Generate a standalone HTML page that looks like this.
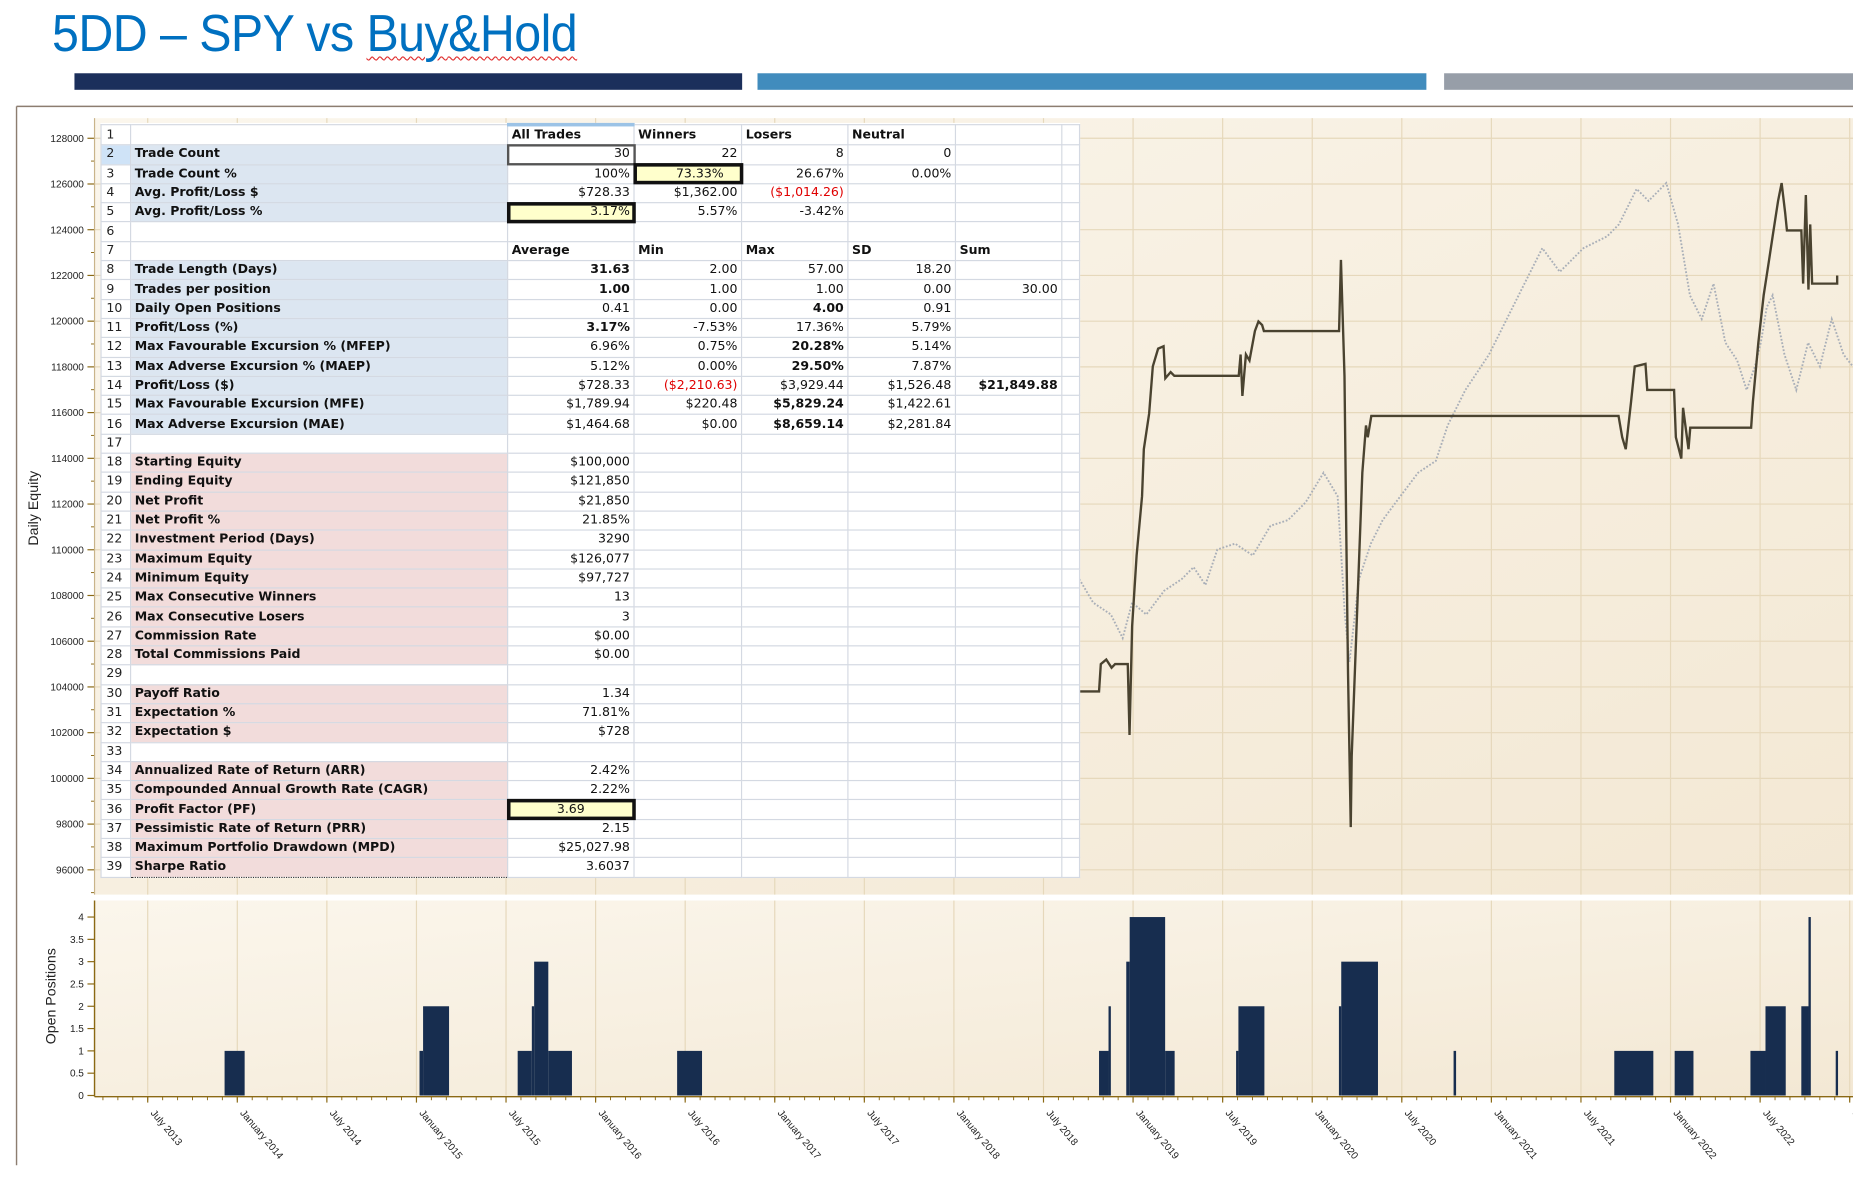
<!DOCTYPE html>
<html><head><meta charset="utf-8">
<style>
html,body{margin:0;padding:0;background:#fff;overflow:hidden;}
#root{position:absolute;left:0;top:0;width:1568px;height:1004px;transform:scale(1.18176);transform-origin:0 0;background:#fff;}
#title{position:absolute;left:44px;top:4px;font-family:"Liberation Sans Narrow","Liberation Sans",sans-serif;font-size:44px;color:#0070c0;white-space:nowrap;letter-spacing:-0.5px;transform:scaleX(0.93);transform-origin:0 0;}
#title .sp{text-decoration:underline wavy #e03030;text-decoration-thickness:1px;text-underline-offset:4px;}
.band{position:absolute;top:62px;height:14px;}
#charts{position:absolute;left:0;top:0;}
#tbl{position:absolute;left:85px;top:104px;border-collapse:collapse;table-layout:fixed;font-family:"DejaVu Sans",sans-serif;font-size:10.6px;color:#111;background:#fff;}
#tbl td{height:15.3px;padding:0 3px;border:1px solid #d4d9e2;white-space:nowrap;overflow:visible;text-align:right;line-height:15px;}
#tbl td.n{text-align:left;color:#222;padding-left:4px;}
#tbl td.l{text-align:left;font-weight:bold;border-bottom:1px dotted #333;border-right:1px dotted #333;}
#tbl tr.b td.l{background:#dce6f1;}
#tbl tr.p td.l{background:#f2dcdb;}
#tbl td.h{text-align:left;font-weight:bold;}
#tbl .bo{font-weight:bold;}
#tbl .r{color:#e00000;}
#tbl td.box{outline:3px solid #111;outline-offset:-2px;background:#ffffcc;}
#tbl td.sel{outline:2px solid #555;outline-offset:-1px;}
</style></head>
<body>
<div id="root">
<div id="title">5DD – SPY vs <span class="sp">Buy&amp;Hold</span></div>
<div class="band" style="left:63px;width:565px;background:#1b2f5b"></div>
<div class="band" style="left:641px;width:566px;background:#418cbd"></div>
<div class="band" style="left:1222px;width:346px;background:#979ea8"></div>

<svg id="charts" width="1568" height="1004" viewBox="0 0 1568 1004">
<defs>
<linearGradient id="bg" x1="0" y1="0" x2="1" y2="1">
<stop offset="0" stop-color="#fbf6ec"/><stop offset="1" stop-color="#f3e8d4"/>
</linearGradient>
</defs>
<line x1="14" y1="90" x2="1568" y2="90" stroke="#8c7d70" stroke-width="1.2"/>
<line x1="14" y1="90" x2="14" y2="986" stroke="#8c7d70" stroke-width="1.2"/>
<rect x="80" y="100" width="1488" height="657" fill="url(#bg)"/>
<rect x="80" y="762" width="1488" height="166" fill="url(#bg)"/>
<g id="grid"></g>
<g id="bh"></g>
<g id="eq"></g>
<g id="bars"></g>
<g id="axes"></g>
<text x="32" y="430" transform="rotate(-90 32 430)" text-anchor="middle" font-family="Liberation Sans,sans-serif" font-size="12" fill="#222">Daily Equity</text>
<text x="47" y="843" transform="rotate(-90 47 843)" text-anchor="middle" font-family="Liberation Sans,sans-serif" font-size="12" fill="#222">Open Positions</text>
</svg>

<table id="tbl">
<colgroup><col style="width:25px"><col style="width:319px"><col style="width:107px"><col style="width:91px"><col style="width:90px"><col style="width:91px"><col style="width:90px"><col style="width:15px"></colgroup>
<tr><td class="n">1</td><td></td><td class="h" style="border-top:3px solid #9cc3e6">All Trades</td><td class="h">Winners</td><td class="h">Losers</td><td class="h">Neutral</td><td></td><td></td></tr>
<tr class="b"><td class="n" style="background:#cfe3f7">2</td><td class="l">Trade Count</td><td class="sel">30</td><td>22</td><td>8</td><td>0</td><td></td><td></td></tr>
<tr class="b"><td class="n">3</td><td class="l">Trade Count %</td><td>100%</td><td class="box" style="text-align:left;padding-left:35px">73.33%</td><td>26.67%</td><td>0.00%</td><td></td><td></td></tr>
<tr class="b"><td class="n">4</td><td class="l">Avg. Profit/Loss $</td><td>$728.33</td><td>$1,362.00</td><td class="r">($1,014.26)</td><td></td><td></td><td></td></tr>
<tr class="b"><td class="n">5</td><td class="l">Avg. Profit/Loss %</td><td class="box">3.17%</td><td>5.57%</td><td>-3.42%</td><td></td><td></td><td></td></tr>
<tr><td class="n">6</td><td></td><td></td><td></td><td></td><td></td><td></td><td></td></tr>
<tr><td class="n">7</td><td></td><td class="h">Average</td><td class="h">Min</td><td class="h">Max</td><td class="h">SD</td><td class="h">Sum</td><td></td></tr>
<tr class="b"><td class="n">8</td><td class="l">Trade Length (Days)</td><td class="bo">31.63</td><td>2.00</td><td>57.00</td><td>18.20</td><td></td><td></td></tr>
<tr class="b"><td class="n">9</td><td class="l">Trades per position</td><td class="bo">1.00</td><td>1.00</td><td>1.00</td><td>0.00</td><td>30.00</td><td></td></tr>
<tr class="b"><td class="n">10</td><td class="l">Daily Open Positions</td><td>0.41</td><td>0.00</td><td class="bo">4.00</td><td>0.91</td><td></td><td></td></tr>
<tr class="b"><td class="n">11</td><td class="l">Profit/Loss (%)</td><td class="bo">3.17%</td><td>-7.53%</td><td>17.36%</td><td>5.79%</td><td></td><td></td></tr>
<tr class="b"><td class="n">12</td><td class="l">Max Favourable Excursion % (MFEP)</td><td>6.96%</td><td>0.75%</td><td class="bo">20.28%</td><td>5.14%</td><td></td><td></td></tr>
<tr class="b"><td class="n">13</td><td class="l">Max Adverse Excursion % (MAEP)</td><td>5.12%</td><td>0.00%</td><td class="bo">29.50%</td><td>7.87%</td><td></td><td></td></tr>
<tr class="b"><td class="n">14</td><td class="l">Profit/Loss ($)</td><td>$728.33</td><td class="r">($2,210.63)</td><td>$3,929.44</td><td>$1,526.48</td><td class="bo">$21,849.88</td><td></td></tr>
<tr class="b"><td class="n">15</td><td class="l">Max Favourable Excursion (MFE)</td><td>$1,789.94</td><td>$220.48</td><td class="bo">$5,829.24</td><td>$1,422.61</td><td></td><td></td></tr>
<tr class="b"><td class="n">16</td><td class="l">Max Adverse Excursion (MAE)</td><td>$1,464.68</td><td>$0.00</td><td class="bo">$8,659.14</td><td>$2,281.84</td><td></td><td></td></tr>
<tr><td class="n">17</td><td></td><td></td><td></td><td></td><td></td><td></td><td></td></tr>
<tr class="p"><td class="n">18</td><td class="l">Starting Equity</td><td>$100,000</td><td></td><td></td><td></td><td></td><td></td></tr>
<tr class="p"><td class="n">19</td><td class="l">Ending Equity</td><td>$121,850</td><td></td><td></td><td></td><td></td><td></td></tr>
<tr class="p"><td class="n">20</td><td class="l">Net Profit</td><td>$21,850</td><td></td><td></td><td></td><td></td><td></td></tr>
<tr class="p"><td class="n">21</td><td class="l">Net Profit %</td><td>21.85%</td><td></td><td></td><td></td><td></td><td></td></tr>
<tr class="p"><td class="n">22</td><td class="l">Investment Period (Days)</td><td>3290</td><td></td><td></td><td></td><td></td><td></td></tr>
<tr class="p"><td class="n">23</td><td class="l">Maximum Equity</td><td>$126,077</td><td></td><td></td><td></td><td></td><td></td></tr>
<tr class="p"><td class="n">24</td><td class="l">Minimum Equity</td><td>$97,727</td><td></td><td></td><td></td><td></td><td></td></tr>
<tr class="p"><td class="n">25</td><td class="l">Max Consecutive Winners</td><td>13</td><td></td><td></td><td></td><td></td><td></td></tr>
<tr class="p"><td class="n">26</td><td class="l">Max Consecutive Losers</td><td>3</td><td></td><td></td><td></td><td></td><td></td></tr>
<tr class="p"><td class="n">27</td><td class="l">Commission Rate</td><td>$0.00</td><td></td><td></td><td></td><td></td><td></td></tr>
<tr class="p"><td class="n">28</td><td class="l">Total Commissions Paid</td><td>$0.00</td><td></td><td></td><td></td><td></td><td></td></tr>
<tr><td class="n">29</td><td></td><td></td><td></td><td></td><td></td><td></td><td></td></tr>
<tr class="p"><td class="n">30</td><td class="l">Payoff Ratio</td><td>1.34</td><td></td><td></td><td></td><td></td><td></td></tr>
<tr class="p"><td class="n">31</td><td class="l">Expectation %</td><td>71.81%</td><td></td><td></td><td></td><td></td><td></td></tr>
<tr class="p"><td class="n">32</td><td class="l">Expectation $</td><td>$728</td><td></td><td></td><td></td><td></td><td></td></tr>
<tr><td class="n">33</td><td></td><td></td><td></td><td></td><td></td><td></td><td></td></tr>
<tr class="p"><td class="n">34</td><td class="l">Annualized Rate of Return (ARR)</td><td>2.42%</td><td></td><td></td><td></td><td></td><td></td></tr>
<tr class="p"><td class="n">35</td><td class="l">Compounded Annual Growth Rate (CAGR)</td><td>2.22%</td><td></td><td></td><td></td><td></td><td></td></tr>
<tr class="p"><td class="n">36</td><td class="l">Profit Factor (PF)</td><td class="box" style="text-align:center">3.69</td><td></td><td></td><td></td><td></td><td></td></tr>
<tr class="p"><td class="n">37</td><td class="l">Pessimistic Rate of Return (PRR)</td><td>2.15</td><td></td><td></td><td></td><td></td><td></td></tr>
<tr class="p"><td class="n">38</td><td class="l">Maximum Portfolio Drawdown (MPD)</td><td>$25,027.98</td><td></td><td></td><td></td><td></td><td></td></tr>
<tr class="p"><td class="n">39</td><td class="l">Sharpe Ratio</td><td>3.6037</td><td></td><td></td><td></td><td></td><td></td></tr>
</table>
</div>

<script>
const eqDates=[2018.70,2018.81,2018.82,2018.85,2018.88,2018.90,2018.97,2018.98,2018.995,2019.02,2019.05,2019.06,2019.09,2019.11,2019.14,2019.17,2019.18,2019.21,2019.23,2019.59,2019.60,2019.61,2019.63,2019.65,2019.68,2019.70,2019.72,2019.73,2020.15,2020.16,2020.18,2020.19,2020.20,2020.215,2020.22,2020.24,2020.26,2020.28,2020.30,2020.31,2020.33,2020.35,2021.71,2021.73,2021.75,2021.78,2021.80,2021.86,2021.87,2022.02,2022.03,2022.06,2022.07,2022.10,2022.11,2022.45,2022.46,2022.49,2022.52,2022.55,2022.57,2022.60,2022.62,2022.64,2022.65,2022.73,2022.74,2022.755,2022.77,2022.78,2022.79,2022.93,2022.93];
const eqValues=[103800,103800,105000,105200,104840,105000,105000,101900,106650,109750,112340,114400,115960,118020,118800,118900,117500,117770,117610,117610,118540,116730,118540,118280,119570,119990,119830,119570,119570,122680,117610,110790,104580,97870,100970,105100,109240,113370,115440,114920,115850,115850,115850,114920,114400,116470,118020,118130,116990,116990,114920,113990,116210,114400,115340,115340,116470,119060,121130,122680,123710,125260,126040,124740,123970,123970,121640,125520,121380,124230,121640,121640,122000];
const bhDates=[2018.70,2018.777,2018.876,2018.942,2018.995,2019.074,2019.173,2019.272,2019.338,2019.404,2019.470,2019.569,2019.668,2019.767,2019.865,2019.964,2020.063,2020.142,2020.182,2020.208,2020.261,2020.327,2020.393,2020.492,2020.591,2020.690,2020.756,2020.855,2020.987,2021.086,2021.185,2021.284,2021.382,2021.514,2021.646,2021.712,2021.811,2021.877,2021.976,2022.042,2022.108,2022.174,2022.240,2022.306,2022.372,2022.425,2022.471,2022.504,2022.537,2022.570,2022.636,2022.702,2022.768,2022.834,2022.900,2022.966,2023.018];
const bhValues=[108720,107690,107170,106135,107690,107170,108200,108720,109240,108460,110010,110270,109750,111050,111300,112080,113370,112340,107170,105100,108720,110270,111300,112340,113370,113890,115440,116990,118540,120090,121640,123190,122160,123190,123710,124230,125780,125260,126040,124230,121130,120090,121640,119060,118280,116990,118020,119060,120610,121130,118540,116990,119060,118020,120090,118540,118020];
const posStart=[2013.929,2015.017,2015.037,2015.565,2015.644,2015.657,2015.736,2016.455,2018.810,2018.863,2018.962,2018.981,2019.179,2019.575,2019.588,2020.149,2020.162,2020.789,2021.686,2022.023,2022.446,2022.530,2022.730,2022.770,2022.922];
const posEnd=[2014.041,2015.037,2015.182,2015.644,2015.657,2015.736,2015.868,2016.594,2018.863,2018.876,2018.981,2019.179,2019.232,2019.588,2019.733,2020.162,2020.367,2020.803,2021.904,2022.128,2022.530,2022.643,2022.770,2022.783,2022.935];
const posCount=[1,1,2,1,2,3,1,1,1,2,3,4,1,1,2,2,3,1,1,1,1,2,2,4,1];
const equityTicks=[128000,126000,124000,122000,120000,118000,116000,114000,112000,110000,108000,106000,104000,102000,100000,98000,96000];
const positionTicks=[0,0.5,1,1.5,2,2.5,3,3.5,4];
const xTickDates=[2013.5,2014,2014.5,2015,2015.5,2016,2016.5,2017,2017.5,2018,2018.5,2019,2019.5,2020,2020.5,2021,2021.5,2022,2022.5,2023];
const xTickLabels=["July 2013","January 2014","July 2014","January 2015","July 2015","January 2016","July 2016","January 2017","July 2017","January 2018","July 2018","January 2019","July 2019","January 2020","July 2020","January 2021","July 2021","January 2022","July 2022","January 2023"];

const NS="http://www.w3.org/2000/svg";
function xS(t){return 125+(t-2013.5)*151.6;}
function yE(v){return 117+(128000-v)/2000*38.69;}
function yP(c){return 927-c*37.75;}
function mk(tag,parent,attrs){const e=document.createElementNS(NS,tag);for(const k in attrs)e.setAttribute(k,attrs[k]);parent.appendChild(e);return e;}

const grid=document.getElementById('grid'),axes=document.getElementById('axes');
xTickDates.forEach(function(t,i){
  const x=xS(t);
  if(x>1568)return;
  const g1=mk('line',grid,{x1:x,y1:100,x2:x,y2:757,stroke:'#e6d8bb','stroke-width':1});
  
  
  const g2=mk('line',grid,{x1:x,y1:762,x2:x,y2:927,stroke:'#e6d8bb','stroke-width':1});
  
  
  const tk=mk('line',axes,{x1:x,y1:928,x2:x,y2:933,stroke:'#8b6914','stroke-width':1});
  
  
  const tx=mk('text',axes,{x:x+2,y:942,transform:'rotate(50 '+(x+2)+' 942)','font-family':'Liberation Sans,sans-serif','font-size':'8.5',fill:'#222'});
  tx.textContent=xTickLabels[i];
  
  
});
for(let m=2013.25;m<2023.1;m+=1/12){
  const x=xS(m);if(x<80||x>1568)continue;
  mk('line',axes,{x1:x,y1:928,x2:x,y2:931,stroke:'#8b6914','stroke-width':0.8});
}
equityTicks.forEach(function(v){
  const y=yE(v);
  const gl=mk('line',grid,{x1:80,y1:y,x2:1568,y2:y,stroke:'#e6d8bb','stroke-width':1});
  
  
  mk('line',axes,{x1:74,y1:y,x2:80,y2:y,stroke:'#8b6914','stroke-width':1});
  const t=mk('text',axes,{x:71,y:y+3,'text-anchor':'end','font-family':'Liberation Sans Narrow,Liberation Sans,sans-serif','font-size':'8.5',fill:'#222'});
  t.textContent=String(v);
  
  
  mk('line',axes,{x1:77,y1:y+19.3,x2:80,y2:y+19.3,stroke:'#8b6914','stroke-width':0.8});
});
mk('line',axes,{x1:80,y1:100,x2:80,y2:757,stroke:'#c9b48a','stroke-width':1});
positionTicks.forEach(function(c){
  const y=yP(c);
  mk('line',axes,{x1:74,y1:y,x2:80,y2:y,stroke:'#8b6914','stroke-width':1});
  const t=mk('text',axes,{x:71,y:y+3,'text-anchor':'end','font-family':'Liberation Sans Narrow,Liberation Sans,sans-serif','font-size':'8.5',fill:'#222'});
  t.textContent=String(c);
  
  
});
mk('line',axes,{x1:80,y1:762,x2:80,y2:928,stroke:'#8b6914','stroke-width':1.2});
mk('line',axes,{x1:80,y1:928,x2:1568,y2:928,stroke:'#8b6914','stroke-width':1.2});
mk('line',axes,{x1:80,y1:759,x2:1568,y2:759,stroke:'#ffffff','stroke-width':2});

const bhPts=bhDates.map(function(d,i){return xS(d).toFixed(1)+','+yE(bhValues[i]).toFixed(1);}).join(' ');
const bh=mk('polyline',document.getElementById('bh'),{points:bhPts,fill:'none',stroke:'#a9afb8','stroke-width':1.6,'stroke-dasharray':'1.5 1.5'});


const eqPts=eqDates.map(function(d,i){return xS(d).toFixed(1)+','+yE(eqValues[i]).toFixed(1);}).join(' ');
const eq=mk('polyline',document.getElementById('eq'),{points:eqPts,fill:'none',stroke:'#4a4330','stroke-width':2,'stroke-linejoin':'miter'});



const bars=document.getElementById('bars');
posStart.forEach(function(s,i){
  const x0=xS(s),x1=xS(posEnd[i]);
  const r=mk('rect',bars,{x:x0,y:yP(posCount[i]),width:Math.max(1.5,x1-x0),height:yP(0)-yP(posCount[i]),fill:'#172d4f'});
  
  
});
</script>
</body></html>
